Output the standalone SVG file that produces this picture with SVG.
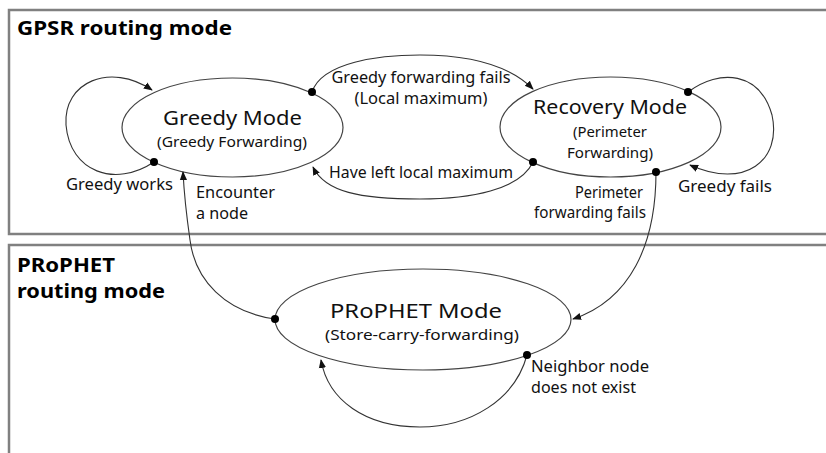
<svg xmlns="http://www.w3.org/2000/svg" width="826" height="453" viewBox="0 0 826 453">
<defs>
<style>
.box{fill:none;stroke:#808080;stroke-width:2.5}
.title{font-family:"Noto Sans","Liberation Sans",sans-serif;font-weight:bold;font-size:20px;fill:#000}
.st{fill:#fff;stroke:#444;stroke-width:1.2}
.big{font-family:"Noto Sans","Liberation Sans",sans-serif;font-size:20px;fill:#111;text-anchor:middle}
.sub{font-family:"Noto Sans","Liberation Sans",sans-serif;font-size:15px;fill:#111;text-anchor:middle}
.lbl{font-family:"Noto Sans","Liberation Sans",sans-serif;font-size:15.5px;fill:#111}
.c{fill:none;stroke:#333;stroke-width:1.1;marker-end:url(#arr);marker-start:url(#dot)}
</style>
<marker id="arr" viewBox="0 0 10 10" refX="9" refY="5" markerWidth="9" markerHeight="9" markerUnits="userSpaceOnUse" orient="auto">
<path d="M0,1 L10,5 L0,9 Z" fill="#111"/>
</marker>
<marker id="dot" viewBox="0 0 10 10" refX="5" refY="5" markerWidth="8" markerHeight="8" markerUnits="userSpaceOnUse">
<circle cx="5" cy="5" r="5" fill="#000"/>
</marker>
</defs>
<rect width="826" height="453" fill="#fff"/>
<g id="gpsr-region">
<rect class="box" x="9" y="10" width="830" height="224"/>
<text class="title" x="17" y="35" textLength="215" lengthAdjust="spacingAndGlyphs">GPSR routing mode</text>
</g>
<g id="prophet-region">
<rect class="box" x="9" y="245" width="830" height="220"/>
<text class="title" x="17" y="272" textLength="98" lengthAdjust="spacingAndGlyphs">PRoPHET</text>
<text class="title" x="17" y="298" textLength="148" lengthAdjust="spacingAndGlyphs">routing mode</text>
</g>
<g id="greedy-mode">
<ellipse class="st" cx="232.5" cy="127.5" rx="110.5" ry="49.5"/>
<text class="big" x="232.5" y="125" textLength="139" lengthAdjust="spacingAndGlyphs">Greedy Mode</text>
<text class="sub" x="232" y="147" textLength="150" lengthAdjust="spacingAndGlyphs">(Greedy Forwarding)</text>
</g>
<g id="recovery-mode">
<ellipse class="st" cx="610.5" cy="127" rx="110.5" ry="50"/>
<text class="big" x="610" y="114" textLength="154" lengthAdjust="spacingAndGlyphs">Recovery Mode</text>
<text class="sub" x="610" y="137" textLength="74" lengthAdjust="spacingAndGlyphs">(Perimeter</text>
<text class="sub" x="610" y="158" textLength="86" lengthAdjust="spacingAndGlyphs">Forwarding)</text>
</g>
<g id="prophet-mode">
<ellipse class="st" cx="423" cy="319.5" rx="148" ry="50.5"/>
<text class="big" x="416" y="318" textLength="172" lengthAdjust="spacingAndGlyphs">PRoPHET Mode</text>
<text class="sub" x="422" y="340" textLength="194" lengthAdjust="spacingAndGlyphs">(Store-carry-forwarding)</text>
</g>
<g id="connectors">
<path class="c" d="M154,162 C115,188 70,172 66,125 C63,82 110,62 152,90"/>
<path class="c" d="M312,92 C322,62 380,55 420,55 C475,55 512,68 533,89"/>
<path class="c" d="M533,162 C520,190 470,199 420,199 C360,199 325,192 313,167"/>
<path class="c" d="M688,92 C720,68 760,72 772,115 C782,160 745,190 690,165"/>
<path class="c" d="M656,172 C656,245 630,300 573,319"/>
<path class="c" d="M275,319 C225,312 195,280 190,240 C186,212 184,192 183,172"/>
<path class="c" d="M527,355 C515,400 470,427 420,427 C365,427 328,400 321,360"/>
<text class="lbl" x="66" y="190" textLength="107" lengthAdjust="spacingAndGlyphs">Greedy works</text>
<text class="lbl" x="421" y="83" text-anchor="middle" textLength="179" lengthAdjust="spacingAndGlyphs">Greedy forwarding fails</text>
<text class="lbl" x="421" y="104" text-anchor="middle" textLength="133" lengthAdjust="spacingAndGlyphs">(Local maximum)</text>
<text class="lbl" x="329" y="178" textLength="184" lengthAdjust="spacingAndGlyphs">Have left local maximum</text>
<text class="lbl" x="678" y="192" textLength="94" lengthAdjust="spacingAndGlyphs">Greedy fails</text>
<text class="lbl" x="575" y="198" textLength="68" lengthAdjust="spacingAndGlyphs">Perimeter</text>
<text class="lbl" x="534" y="218" textLength="112" lengthAdjust="spacingAndGlyphs">forwarding fails</text>
<text class="lbl" x="196" y="198" textLength="79" lengthAdjust="spacingAndGlyphs">Encounter</text>
<text class="lbl" x="196" y="219" textLength="52" lengthAdjust="spacingAndGlyphs">a node</text>
<text class="lbl" x="531" y="372" textLength="118" lengthAdjust="spacingAndGlyphs">Neighbor node</text>
<text class="lbl" x="531" y="393" textLength="105" lengthAdjust="spacingAndGlyphs">does not exist</text>
</g>
</svg>
